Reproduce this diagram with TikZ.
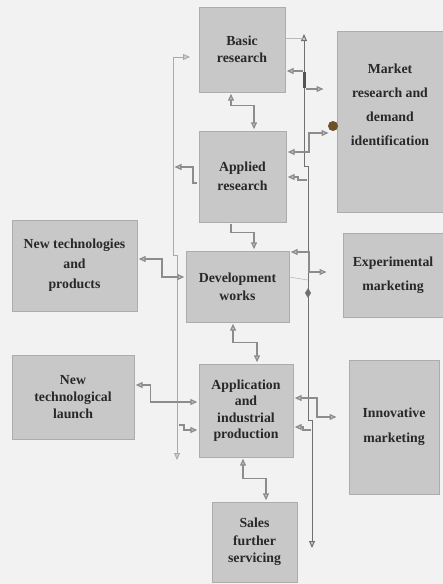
\documentclass[tikz,border=0pt]{standalone}
\usepackage{fontspec}
\setmainfont{Liberation Serif}
\usetikzlibrary{arrows.meta}

\definecolor{paper}{RGB}{242,242,242}
\definecolor{boxgray}{RGB}{200,200,200}
\definecolor{wire}{RGB}{140,140,140}
\definecolor{ink}{RGB}{40,40,40}
\definecolor{knob}{RGB}{110,80,40}

\tikzset{
  box/.style={draw=gray!65, fill=boxgray, text=ink, align=center, inner sep=0pt,
    font=\bfseries\fontsize{13.8}{#1}\selectfont},
  box/.default=17,
  boxtext/.style={text=ink, align=center, inner sep=0pt,
    font=\bfseries\fontsize{13.8}{#1}\selectfont},
  tip/.style={>={Triangle[length=7pt,width=6pt,fill=gray!40]}},
  link/.style={draw=wire, line width=1.3pt, tip, shorten >=1.5pt, shorten <=1.5pt},
  spine/.style={draw=wire!80!black, line width=1pt, tip},
  faint/.style={draw=wire!60, line width=0.6pt},
}

\begin{document}
\begin{tikzpicture}[x=1pt, y=-1pt]
  \useasboundingbox (0,0) rectangle (443,584);
  \fill[paper] (0,0) rectangle (443,584);

  % middle column
  \node[box, minimum width=86pt, minimum height=85pt] (basic) at (242,49.5) {Basic\\research};
  \node[box=19, minimum width=87pt, minimum height=91pt] (applied) at (242.5,176.5) {Applied\\research};
  \node[box=18, minimum width=103pt, minimum height=71pt] (devel) at (237.5,286.5) {Development\\works};
  \node[box=16.5, minimum width=94pt, minimum height=93pt] (appl) at (246,410.5) {Application\\and\\industrial\\production};
  \node[box=17.5, minimum width=85pt, minimum height=80pt] (sales) at (254.5,542) {Sales\\further\\servicing};

  % right column
  \node[box, minimum width=106pt, minimum height=181pt] (market) at (390,121.5) {};
  \node[boxtext=24] (markettext) at (390,105) {Market\\research and\\demand\\identification};
  \node[box=24, minimum width=100pt, minimum height=84pt] (exper) at (393,275) {Experimental\\marketing};
  \node[box=25, minimum width=90pt, minimum height=134pt] (innov) at (394,427) {Innovative\\marketing};

  % left column
  \node[box=20, minimum width=125pt, minimum height=91pt] (newtech) at (74.5,265.5) {New technologies\\and\\products};
  \node[box=17, minimum width=122pt, minimum height=84pt] (launch) at (73,397) {New\\technological\\launch};

  % the two long lines
  \coordinate (rtop) at (304,34);
  \coordinate (rbot) at (312,548);
  \coordinate (ltop) at (190,57);
  \coordinate (lbot) at (177,460);
  \draw[spine,<->] (rbot) -- (312,420) -- (308,420) -- (308,166) -- (304,166) -- (rtop);
  \draw[spine, draw=wire!75, line width=0.8pt, <->] (lbot) -- (177,255) -- (173,255) -- (173,57) -- (ltop);
  \fill[wire!60!black] (302.5,72) rectangle (305.5,88);
  \fill[wire!80!black] (308,288) -- (311,293) -- (308,298) -- (305,293) -- cycle;
  \fill[knob] (333,126) circle (5pt);

  % steps down the middle
  \draw[link,<->] (basic.south -| 231,0) -- ++(0,13) -| (applied.north -| 254,0);
  \draw[link,->] (applied.south -| 231,0) -- ++(0,10) -| (devel.north -| 254,0);
  \draw[link,<->] (devel.south -| 233,0) -- ++(0,20) -| (appl.north -| 257,0);
  \draw[link,<->] (appl.south -| 243,0) -- ++(0,21) -| (sales.north -| 266,0);

  % right side
  \draw[faint] (basic.east |- 0,38) -- (304,38);
  \draw[link,<-] (basic.east |- 0,71) -- (304,71);
  \draw[link,->] (304,89) -- (325,89);
  \draw[link,<->] (applied.east |- 0,152) -- (309,152) -- (309,133) -- (330,133);
  \draw[link,<-] (applied.east |- 0,177) -- (298,177) -- (298,180) -- (308,180);
  \draw[link,<->] (devel.east |- 0,252) -- (309,252) -- (309,272) -- (328,272);
  \draw[faint] (devel.east |- 0,277) -- (308,280);
  \draw[link,<->] (appl.east |- 0,398) -- (317,398) -- (317,417) -- (338,417);
  \draw[link,<-] (appl.east |- 0,427) -- (303,427) -- (303,430) -- (312,430);

  % left side
  \draw[link,->] (applied.west |- 0,183) -- (193,183) -- (193,167) -- (173,167);
  \draw[link,<->] (newtech.east |- 0,259) -- (162,259) -- (162,277) -- (devel.west |- 0,277);
  \draw[link,<->] (launch.east |- 0,385) -- ++(16,0) |- (appl.west |- 0,402);
  \draw[link,->] (177,425) -- (184,425) -- (184,430) -- (appl.west |- 0,430);
\end{tikzpicture}
\end{document}
